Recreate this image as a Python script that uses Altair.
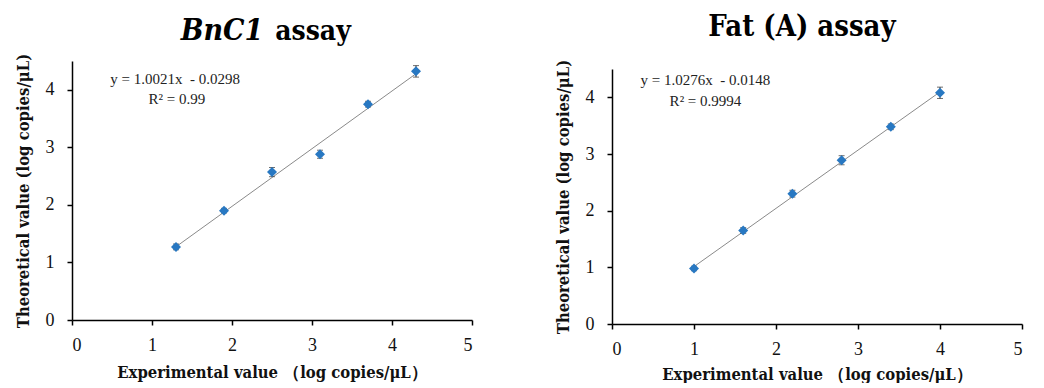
import altair as alt
import pandas as pd

# ---- data ----
bn_x = [1.3, 1.9, 2.5, 3.1, 3.7, 4.3]
bn_y = [1.27, 1.90, 2.57, 2.88, 3.75, 4.32]
bn_err = [0.05, 0.04, 0.08, 0.07, 0.05, 0.10]
bn_slope, bn_icpt = 1.0021, -0.0298

fat_x = [1.0, 1.6, 2.2, 2.8, 3.4, 4.0]
fat_y = [0.98, 1.65, 2.30, 2.89, 3.48, 4.08]
fat_err = [0.04, 0.05, 0.06, 0.08, 0.05, 0.10]
fat_slope, fat_icpt = 1.0276, -0.0148

FONT = "Liberation Serif, DejaVu Serif, serif"
BOLD = "DejaVu Serif Condensed, DejaVu Serif, serif"
BLUE = "#2878C2"


def title_layer(txt, italic, dx, ty, fs):
    t_df = pd.DataFrame({"t": [txt]})
    return alt.Chart(t_df).mark_text(
        font=BOLD, fontSize=fs, fontWeight="bold",
        fontStyle="italic" if italic else "normal", align="center",
        baseline="alphabetic", color="black").encode(
        x=alt.value(dx), y=alt.value(ty), text="t:N")


def panel(xs, ys, errs, slope, icpt, eq, r2, eq_pos, r2_pos, xtitle_pad):
    df = pd.DataFrame({"x": xs, "y": ys, "lo": [a - e for a, e in zip(ys, errs)],
                       "hi": [a + e for a, e in zip(ys, errs)]})
    x0, x1 = min(xs), max(xs)
    line_df = pd.DataFrame({"x": [x0, x1], "y": [slope * x0 + icpt, slope * x1 + icpt]})

    xenc = alt.X("x:Q", scale=alt.Scale(domain=[0, 5], nice=False),
                 axis=alt.Axis(values=[0, 1, 2, 3, 4, 5], format="d", grid=False, tickSize=5,
                               labelPadding=11, title="Experimental value （log copies/μL）",
                               titlePadding=xtitle_pad))
    yenc = alt.Y("y:Q", scale=alt.Scale(domain=[0, 4.5], nice=False),
                 axis=alt.Axis(values=[0, 1, 2, 3, 4], format="d", grid=False, tickSize=5,
                               labelPadding=13, title="Theoretical value (log copies/μL)",
                               titlePadding=14))

    trend = alt.Chart(line_df).mark_line(color="#8a8a8a", strokeWidth=1).encode(x=xenc, y=yenc)
    bars = alt.Chart(df).mark_rule(color="#333333", strokeWidth=1).encode(
        x="x:Q", y="lo:Q", y2="hi:Q")
    cap_lo = alt.Chart(df).mark_tick(color="#333333", orient="horizontal", size=6,
                                     thickness=1).encode(x="x:Q", y="lo:Q")
    cap_hi = alt.Chart(df).mark_tick(color="#333333", orient="horizontal", size=6,
                                     thickness=1).encode(x="x:Q", y="hi:Q")
    pts = alt.Chart(df).mark_point(shape="diamond", filled=True, size=100, color=BLUE,
                                   opacity=1).encode(x="x:Q", y="y:Q")
    ann_df = pd.DataFrame({"x": [eq_pos[0], r2_pos[0]], "y": [eq_pos[1], r2_pos[1]],
                           "t": [eq, r2]})
    ann = alt.Chart(ann_df).mark_text(font=FONT, fontSize=15, color="#222222",
                                      align="center", baseline="alphabetic").encode(
        x="x:Q", y="y:Q", text="t:N")
    return [trend, bars, cap_lo, cap_hi, pts, ann]


left_layers = panel(bn_x, bn_y, bn_err, bn_slope, bn_icpt,
                    "y = 1.0021x \u00a0- 0.0298", "R² = 0.99", (1.29, 4.1), (1.31, 3.75), 10)
left = alt.layer(*left_layers,
                 title_layer("BnC1", True, 150, -21, 30),
                 title_layer("assay", False, 241, -21, 28)
                 ).properties(width=400, height=259)

right_layers = panel(fat_x, fat_y, fat_err, fat_slope, fat_icpt,
                     "y = 1.0276x \u00a0- 0.0148", "R² = 0.9994", (1.14, 4.21), (1.14, 3.84), 8)
right_panel = alt.layer(*right_layers).properties(width=410, height=255)
spacer = title_layer("Fat (A) assay", False, 190, -25, 29).properties(width=410, height=8)
right = alt.vconcat(spacer, right_panel, spacing=0, bounds="flush")

chart = alt.hconcat(left, right, spacing=81).configure_view(stroke=None).configure_axis(
    domainColor="black", domainWidth=1.5, tickColor="black", tickWidth=1.5,
    labelFont=FONT, labelFontSize=18, labelColor="#111111",
    titleFont=BOLD, titleFontSize=16.5, titleFontWeight="bold", titleColor="#111111",
).properties(padding={"left": 6, "top": 5, "right": 5, "bottom": 0})

chart.save("out.html", embed_options={"renderer": "svg", "actions": False})
